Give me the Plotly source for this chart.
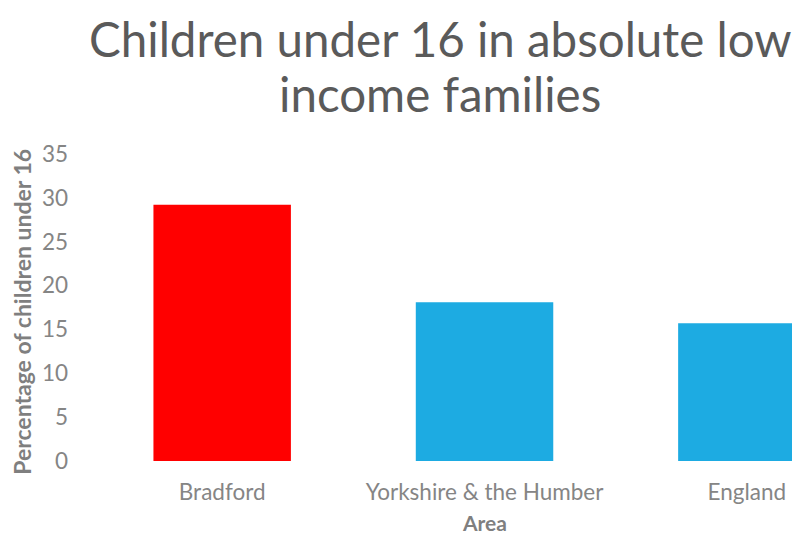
import plotly.graph_objects as go

# Share of children under 16 living in absolute low income families
areas = ["Bradford", "Yorkshire & the Humber", "England"]
percentages = [29.2, 18.1, 15.7]
bar_colors = ["#FF0000", "#1DABE2", "#1DABE2"]
y_ticks = [0, 5, 10, 15, 20, 25, 30, 35]
title_lines = ["Children under 16 in absolute low", "income families"]

FONT = "Lato"
W, H = 792, 537
ML, MR, MT, MB = 91, 0, 154, 75.5
PLOT_H = H - MT - MB


def paper_y(px):
    """Convert a pixel row (from the top) to paper y."""
    return (H - MB - px) / PLOT_H


fig = go.Figure(
    go.Bar(
        x=list(range(len(areas))),
        y=percentages,
        marker=dict(color=bar_colors, line=dict(width=0)),
        width=0.524,
        hoverinfo="x+y",
    )
)

fig.update_layout(
    width=W,
    height=H,
    margin=dict(l=ML, r=MR, t=MT, b=MB, pad=0),
    paper_bgcolor="white",
    plot_bgcolor="white",
    showlegend=False,
    font=dict(family=FONT, color="#858585"),
)

fig.update_xaxes(
    range=[-0.5, 2.172],
    tickmode="array",
    tickvals=list(range(len(areas))),
    ticktext=areas,
    tickfont=dict(family=FONT, size=22.5, color="#858585"),
    showgrid=False,
    zeroline=False,
    showline=False,
    ticks="",
    ticklabelstandoff=15,
)

fig.update_yaxes(
    range=[0, 35],
    tickmode="array",
    tickvals=y_ticks,
    tickfont=dict(family=FONT, size=22.5, color="#858585"),
    showgrid=False,
    zeroline=False,
    showline=False,
    ticks="",
    ticklabelstandoff=22,
)

# Chart title, one annotation per line
for line, center_px in zip(title_lines, [38, 93]):
    fig.add_annotation(
        text=line,
        xref="paper", x=(440 - ML) / (W - ML - MR),
        yref="paper", y=paper_y(center_px),
        xanchor="center", yanchor="middle",
        showarrow=False,
        font=dict(family=FONT, size=47.5, color="#5A5A5A"),
    )

# Axis titles
fig.add_annotation(
    text="<b>Area</b>",
    xref="x", x=1,
    yref="paper", y=paper_y(523),
    yanchor="middle", xanchor="center",
    showarrow=False,
    borderpad=0,
    font=dict(family=FONT, size=21, color="#7F7F7F"),
)
fig.add_annotation(
    text="<b>Percentage of children under 16</b>",
    xref="paper", x=(22 - ML) / (W - ML - MR),
    yref="paper", y=paper_y(312),
    xanchor="center", yanchor="middle",
    textangle=-90,
    showarrow=False,
    font=dict(family=FONT, size=23, color="#7F7F7F"),
)

fig.write_html("out.html")
